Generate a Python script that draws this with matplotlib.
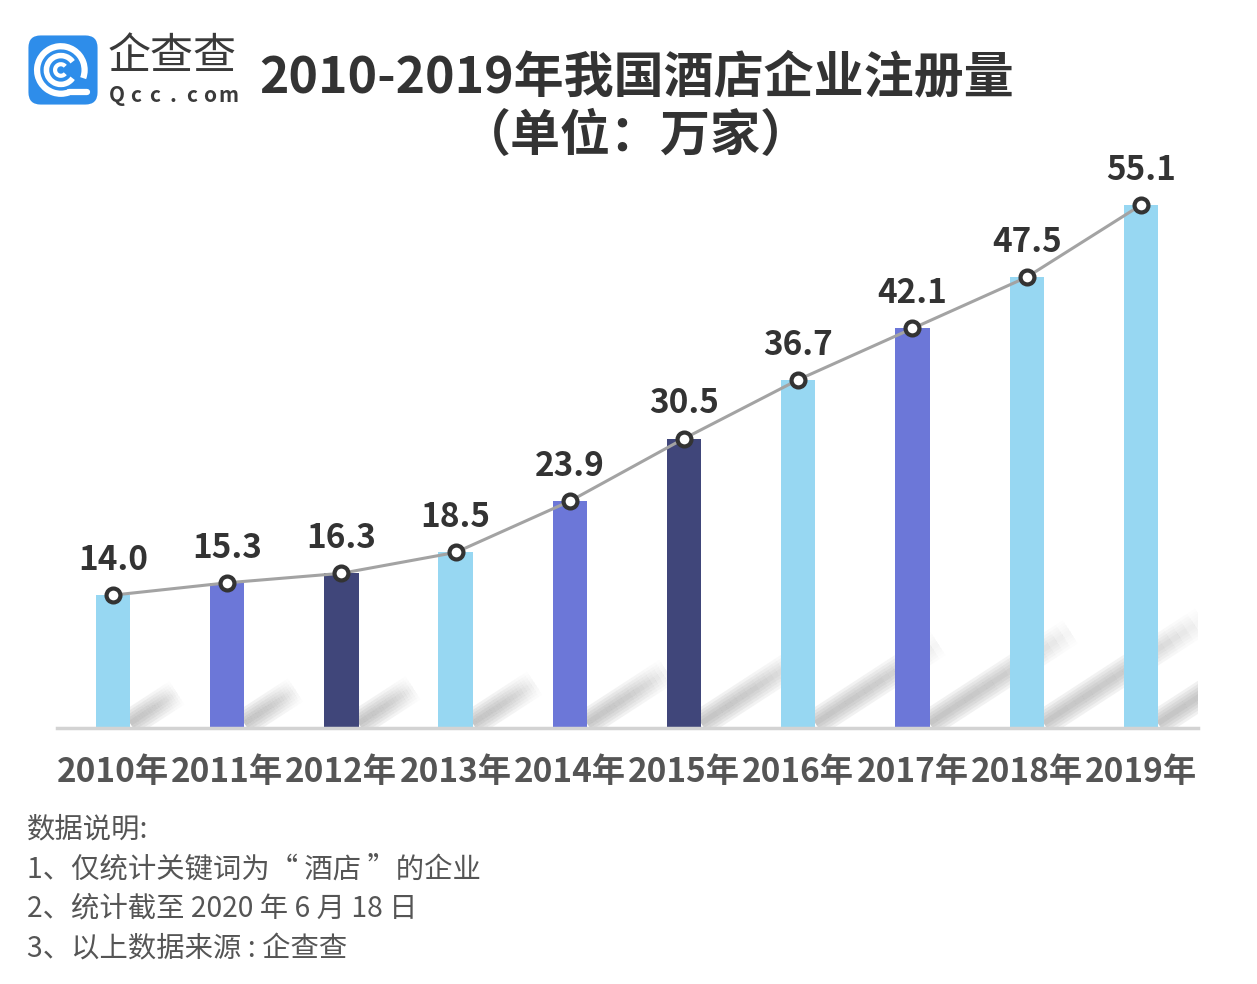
import numpy as np
import matplotlib
matplotlib.use("Agg")
import matplotlib.pyplot as plt
from matplotlib.patches import FancyBboxPatch, Arc

plt.rcParams["font.family"] = ["Noto Sans CJK SC", "DejaVu Sans"]

# ── Data ──────────────────────────────────────────────────────────────────────
years = ["2010年", "2011年", "2012年", "2013年", "2014年",
         "2015年", "2016年", "2017年", "2018年", "2019年"]
counts = [14.0, 15.3, 16.3, 18.5, 23.9, 30.5, 36.7, 42.1, 47.5, 55.1]

LIGHT, MID, DARK = "#97D7F2", "#6C77D8", "#40467A"
bar_colors = [LIGHT, MID, DARK, LIGHT, MID, DARK, LIGHT, MID, LIGHT, LIGHT]

notes = ["数据说明:",
         "1、仅统计关键词为“ 酒店 ”的企业",
         "2、统计截至 2020 年 6 月 18 日",
         "3、以上数据来源 : 企查查"]

title_1 = "2010-2019年我国酒店企业注册量"
title_2 = "（单位：万家）"

# ── Figure ────────────────────────────────────────────────────────────────────
W, H = 1257, 984
fig = plt.figure(figsize=(W / 100, H / 100), dpi=100)
fig.patch.set_facecolor("white")

ax = fig.add_axes([57 / W, 1 - 728 / H, (1198 - 57) / W, (728 - 158.6) / H])
x = np.arange(len(years))
bar_w = 0.3
ax.set_xlim(-0.49, 9.5)
ax.set_ylim(0, 60)

# diagonal soft shadows behind each bar (length scales with bar height)
px_x = (1198 - 57) / 9.99          # pixels per x unit
px_y = (728 - 158.6) / 60          # pixels per y unit
ang = np.deg2rad(33)
for xi, v in zip(x, counts):
    length = 0.42 * v * px_y
    x0, y0 = xi + bar_w / 2, 0.5
    x1 = x0 + length * np.cos(ang) / px_x
    y1 = y0 + length * np.sin(ang) / px_y
    n = 20
    xs = np.linspace(x0, x1, n + 1)
    ys = np.linspace(y0, y1, n + 1)
    for k in range(n):
        fade = 1 - (k / n) ** 2.5
        for lw in (4, 8, 12, 16, 20):
            ax.plot(xs[k:k + 2], ys[k:k + 2], color="#8C8C8C",
                    lw=lw, alpha=0.12 * fade, solid_capstyle="butt", zorder=1)

ax.bar(x, counts, width=bar_w, color=bar_colors, zorder=2)
ax.plot(x, counts, color="#A3A3A3", lw=2.2, zorder=3)
ax.plot(x, counts, "o", ms=10, mfc="white", mec="#333333", mew=3, zorder=4)

for xi, v in zip(x, counts):
    ax.annotate(f"{v:.1f}", (xi, v), xytext=(0, 13), textcoords="offset points",
                ha="center", va="bottom", fontsize=24, fontweight="bold",
                color="#333333")

for s in ["top", "right", "left"]:
    ax.spines[s].set_visible(False)
ax.spines["bottom"].set_color("#D3D3D3")
ax.spines["bottom"].set_linewidth(2.5)
ax.set_yticks([])
ax.set_xticks(x)
ax.set_xticklabels(years, fontsize=24, fontweight="bold", color="#555555")
ax.tick_params(axis="x", length=0, pad=20)

# ── Title ─────────────────────────────────────────────────────────────────────
fig.text(637 / W, 1 - 78 / H, title_1, ha="center", va="center",
         fontsize=36, fontweight="bold", color="#333333")
fig.text(636 / W, 1 - 137 / H, title_2, ha="center", va="center",
         fontsize=36, fontweight="bold", color="#333333")

# ── Logo ──────────────────────────────────────────────────────────────────────
lax = fig.add_axes([27 / W, 1 - 106 / H, 72 / W, 72 / H])
lax.set_xlim(0, 1)
lax.set_ylim(0, 1)
lax.axis("off")
lax.add_patch(FancyBboxPatch((0.02, 0.02), 0.96, 0.96,
                             boxstyle="round,pad=0,rounding_size=0.17",
                             fc="#2E8DEA", ec="none"))
cx, cy = 0.47, 0.5
lax.add_patch(Arc((cx, cy), 0.66, 0.66, theta1=-20, theta2=290,
                  color="white", lw=4.5))
lax.add_patch(Arc((cx, cy), 0.40, 0.40, theta1=35, theta2=325,
                  color="white", lw=4))
lax.add_patch(Arc((cx, cy), 0.16, 0.16, theta1=40, theta2=320,
                  color="white", lw=3))
lax.plot([0.58, 0.84], [0.2, 0.2], color="white", lw=4.5,
         solid_capstyle="round")

fig.text(108 / W, 1 - 57 / H, "企查查", ha="left", va="center",
         fontsize=31, fontweight="light", color="#3A3A3A")
for i, ch in enumerate("Qcc.com"):
    fig.text((117 + i * 18.6) / W, 1 - 95 / H, ch, ha="center", va="center",
             fontsize=15, fontweight="bold", color="#3A3A3A")

# ── Notes ─────────────────────────────────────────────────────────────────────
for i, line in enumerate(notes):
    fig.text(27 / W, 1 - (829 + 40 * i) / H, line, ha="left", va="center",
             fontsize=20.4, color="#555555")

fig.savefig("out.png", dpi=100, facecolor="white")
